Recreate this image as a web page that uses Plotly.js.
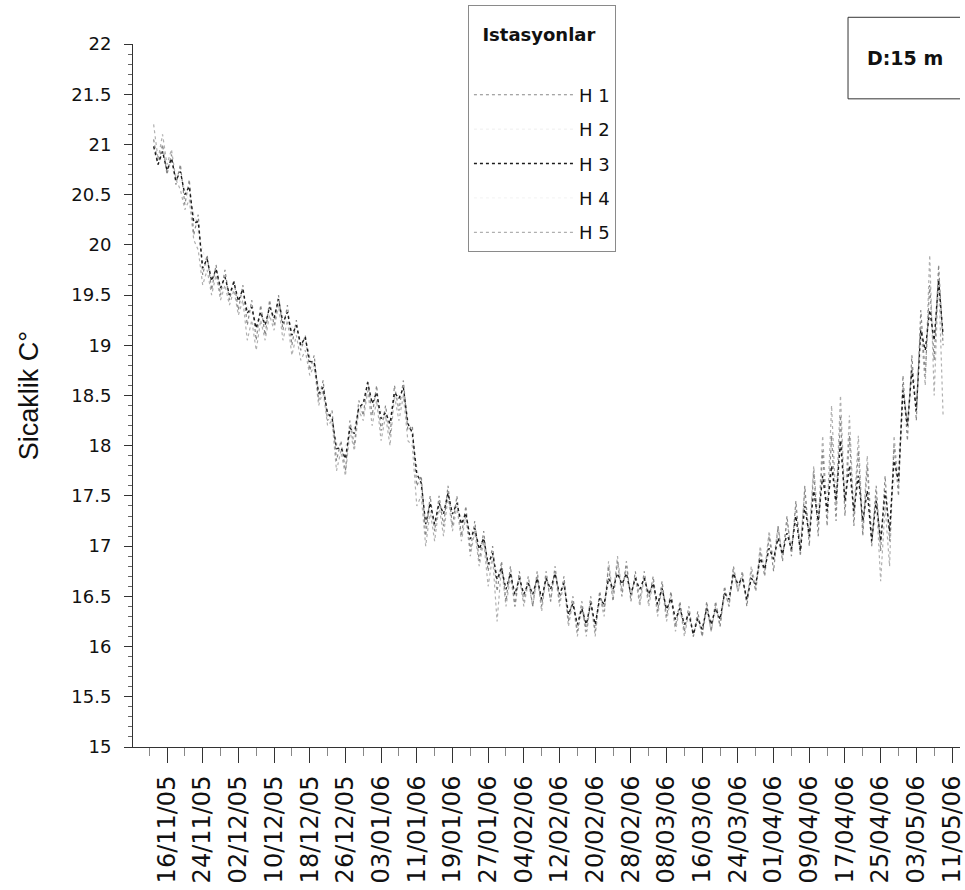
<!DOCTYPE html>
<html>
<head>
<meta charset="utf-8">
<script src="https://cdn.plot.ly/plotly-3.0.1.min.js"></script>
<style>
  html, body { margin: 0; padding: 0; background: #ffffff; }
  #chart { width: 965px; height: 890px; }
</style>
</head>
<body>
<div id="chart"></div>
<script>
// Station names
const stationNames = ["H 1", "H 2", "H 3", "H 4", "H 5"];

// Daily readings (°C) from 13/11/05 to 09/05/06, one value per day
const startDate = "2005-11-13";

const h1 = [
  21.05, 20.80, 21.00, 20.70, 20.90, 20.60,
  20.80, 20.40, 20.65, 20.10, 20.30, 19.70,
  19.90, 19.55, 19.80, 19.50, 19.75, 19.45,
  19.65, 19.35, 19.60, 19.20, 19.45, 19.05,
  19.40, 19.10, 19.45, 19.20, 19.50, 19.15,
  19.40, 19.00, 19.25, 18.95, 19.10, 18.75,
  18.90, 18.45, 18.65, 18.25, 18.35, 17.85,
  18.05, 17.75, 18.25, 18.00, 18.45, 18.30,
  18.65, 18.30, 18.60, 18.15, 18.40, 18.10,
  18.60, 18.35, 18.65, 18.15, 18.20, 17.60,
  17.70, 17.10, 17.50, 17.15, 17.50, 17.20,
  17.60, 17.20, 17.50, 17.10, 17.40, 16.95,
  17.25, 16.85, 17.15, 16.75, 17.00, 16.55,
  16.85, 16.45, 16.80, 16.40, 16.75, 16.45,
  16.70, 16.40, 16.75, 16.40, 16.75, 16.45,
  16.80, 16.45, 16.70, 16.25, 16.50, 16.15,
  16.45, 16.15, 16.50, 16.15, 16.55, 16.35,
  16.80, 16.45, 16.85, 16.50, 16.85, 16.45,
  16.75, 16.45, 16.75, 16.45, 16.70, 16.35,
  16.65, 16.30, 16.55, 16.20, 16.45, 16.15,
  16.40, 16.10, 16.35, 16.10, 16.45, 16.15,
  16.45, 16.20, 16.60, 16.40, 16.80, 16.55,
  16.75, 16.40, 16.75, 16.55, 16.95, 16.70,
  17.10, 16.75, 17.20, 16.85, 17.30, 16.90,
  17.45, 16.90, 17.60, 17.00, 17.75, 17.10,
  17.95, 17.20, 18.10, 17.25, 18.30, 17.30,
  18.10, 17.20, 17.95, 17.10, 17.80, 17.00,
  17.60, 16.95, 17.70, 17.05, 18.00, 17.50,
  18.70, 18.05, 18.90, 18.25, 19.35, 18.70,
  19.60, 18.85, 19.80, 19.00
];

const h3 = [
  20.98, 20.80, 20.93, 20.74, 20.86, 20.64,
  20.73, 20.50, 20.58, 20.22, 20.23, 19.77,
  19.86, 19.64, 19.76, 19.57, 19.68, 19.50,
  19.63, 19.44, 19.56, 19.32, 19.38, 19.17,
  19.33, 19.20, 19.38, 19.27, 19.46, 19.22,
  19.33, 19.10, 19.20, 19.00, 19.08, 18.84,
  18.83, 18.52, 18.58, 18.32, 18.28, 17.97,
  17.98, 17.87, 18.18, 18.12, 18.38, 18.42,
  18.63, 18.42, 18.53, 18.27, 18.33, 18.22,
  18.53, 18.47, 18.58, 18.22, 18.13, 17.72,
  17.63, 17.22, 17.43, 17.22, 17.43, 17.32,
  17.53, 17.32, 17.43, 17.22, 17.33, 17.07,
  17.18, 16.97, 17.08, 16.82, 16.93, 16.67,
  16.78, 16.57, 16.73, 16.52, 16.68, 16.52,
  16.63, 16.52, 16.68, 16.47, 16.68, 16.57,
  16.73, 16.52, 16.63, 16.32, 16.43, 16.22,
  16.38, 16.22, 16.43, 16.22, 16.48, 16.42,
  16.68, 16.57, 16.73, 16.62, 16.73, 16.52,
  16.68, 16.57, 16.68, 16.52, 16.63, 16.42,
  16.58, 16.37, 16.48, 16.27, 16.38, 16.22,
  16.33, 16.12, 16.28, 16.17, 16.38, 16.22,
  16.38, 16.27, 16.53, 16.47, 16.73, 16.62,
  16.68, 16.47, 16.68, 16.62, 16.88, 16.77,
  16.98, 16.87, 17.08, 16.92, 17.13, 16.97,
  17.30, 16.95, 17.40, 17.10, 17.55, 17.25,
  17.70, 17.35, 17.80, 17.45, 18.05, 17.45,
  17.80, 17.35, 17.70, 17.25, 17.55, 17.05,
  17.45, 17.05, 17.55, 17.15, 17.85, 17.65,
  18.55, 18.20, 18.75, 18.35, 19.15, 18.95,
  19.35, 19.05, 19.65, 19.10
];

const h5 = [
  21.20, 20.85, 21.10, 20.80, 20.95, 20.65,
  20.55, 20.35, 20.45, 20.05, 19.95, 19.60,
  19.75, 19.50, 19.70, 19.45, 19.60, 19.40,
  19.55, 19.30, 19.45, 19.05, 19.25, 18.95,
  19.25, 19.05, 19.30, 19.15, 19.40, 19.05,
  19.25, 18.90, 19.10, 18.85, 18.95, 18.70,
  18.80, 18.40, 18.55, 18.20, 18.25, 17.75,
  17.95, 17.70, 18.15, 17.95, 18.35, 18.25,
  18.55, 18.20, 18.45, 18.05, 18.30, 18.00,
  18.50, 18.25, 18.50, 18.05, 18.00, 17.40,
  17.50, 17.00, 17.35, 17.05, 17.40, 17.10,
  17.50, 17.15, 17.40, 17.05, 17.30, 16.90,
  17.15, 16.80, 17.05, 16.60, 16.90, 16.25,
  16.80, 16.40, 16.70, 16.40, 16.70, 16.40,
  16.65, 16.40, 16.70, 16.35, 16.70, 16.45,
  16.75, 16.40, 16.65, 16.20, 16.45, 16.10,
  16.40, 16.10, 16.45, 16.10, 16.50, 16.30,
  16.85, 16.50, 16.90, 16.55, 16.80, 16.50,
  16.70, 16.40, 16.70, 16.40, 16.65, 16.30,
  16.60, 16.25, 16.50, 16.15, 16.40, 16.10,
  16.35, 16.10, 16.30, 16.10, 16.40, 16.15,
  16.40, 16.20, 16.55, 16.40, 16.75, 16.55,
  16.70, 16.45, 16.80, 16.60, 17.00, 16.75,
  17.15, 16.85, 17.20, 16.90, 17.25, 16.95,
  17.40, 17.00, 17.55, 17.10, 17.80, 17.20,
  18.10, 17.30, 18.40, 17.40, 18.50, 17.40,
  18.30, 17.30, 18.10, 17.15, 17.90, 17.10,
  17.50, 16.65, 17.40, 16.80, 18.10, 17.60,
  18.60, 18.20, 18.80, 18.40, 19.20, 18.60,
  19.90, 18.50, 19.70, 18.30
];

// Two-day readings (barely visible in the scan)
const h2Start = "2005-11-13";
const h2 = [
  20.90, 20.85, 20.78, 20.65, 20.50, 20.15, 19.78, 19.68, 19.60, 19.55,
  19.48, 19.30, 19.25, 19.30, 19.38, 19.25, 19.12, 19.00, 18.75, 18.50,
  18.20, 17.90, 18.10, 18.30, 18.55, 18.45, 18.25, 18.45, 18.50, 18.05,
  17.55, 17.35, 17.35, 17.45, 17.35, 17.25, 17.10, 17.00, 16.85, 16.70,
  16.65, 16.60, 16.55, 16.60, 16.60, 16.65, 16.55, 16.35, 16.30, 16.35,
  16.40, 16.60, 16.65, 16.65, 16.60, 16.60, 16.55, 16.50, 16.40, 16.30,
  16.25, 16.20, 16.30, 16.30, 16.45, 16.65, 16.60, 16.60, 16.80, 16.90,
  17.00, 17.05, 17.10, 17.20, 17.35, 17.50, 17.60, 17.70, 17.60, 17.50,
  17.35, 17.20, 17.30, 17.60, 18.30, 18.50, 18.90, 19.10, 19.40
];

const h4Start = "2005-11-14";
const h4 = [
  20.85, 20.80, 20.70, 20.55, 20.30, 19.85, 19.70, 19.62, 19.55, 19.50,
  19.40, 19.22, 19.25, 19.32, 19.30, 19.15, 19.05, 18.90, 18.60, 18.35,
  18.00, 17.90, 18.15, 18.45, 18.50, 18.35, 18.28, 18.52, 18.30, 17.80,
  17.30, 17.30, 17.38, 17.40, 17.30, 17.15, 17.05, 16.90, 16.75, 16.65,
  16.60, 16.58, 16.58, 16.55, 16.62, 16.60, 16.40, 16.30, 16.28, 16.30,
  16.48, 16.62, 16.65, 16.60, 16.62, 16.58, 16.50, 16.45, 16.35, 16.28,
  16.20, 16.22, 16.28, 16.35, 16.55, 16.68, 16.55, 16.68, 16.85, 16.95,
  17.00, 17.05, 17.15, 17.28, 17.42, 17.55, 17.65, 17.65, 17.55, 17.45,
  17.25, 17.25, 17.35, 17.85, 18.42, 18.55, 19.15, 19.25, 19.35
];

const DAY = 86400000;

const traces = [
  { name: stationNames[1], y: h2, x0: h2Start, dx: 2 * DAY, rank: 2, color: "#eeeeee", width: 1, dash: "dot" },
  { name: stationNames[3], y: h4, x0: h4Start, dx: 2 * DAY, rank: 4, color: "#f2f2f2", width: 1, dash: "dot" },
  { name: stationNames[4], y: h5, x0: startDate, dx: DAY, rank: 5, color: "#b0b0b0", width: 1.2, dash: "dot" },
  { name: stationNames[0], y: h1, x0: startDate, dx: DAY, rank: 1, color: "#888888", width: 1.2, dash: "dot" },
  { name: stationNames[2], y: h3, x0: startDate, dx: DAY, rank: 3, color: "#1c1c1c", width: 1.4, dash: "dot" }
].map(t => ({
  type: "scatter",
  mode: "lines",
  name: t.name,
  y: t.y,
  x0: t.x0,
  dx: t.dx,
  legendrank: t.rank,
  legendgroup: t.name,
  line: { color: t.color, width: t.width, dash: t.dash },
  hoverinfo: "skip"
}));

const FONT = "DejaVu Sans, Verdana, sans-serif";

const layout = {
  width: 965,
  height: 890,
  margin: { l: 133, r: 5, t: 42, b: 143 },
  paper_bgcolor: "#ffffff",
  plot_bgcolor: "#ffffff",
  font: { family: FONT, color: "#111111" },
  showlegend: true,
  legend: {
    x: 0.405, y: 1.055, xanchor: "left", yanchor: "top",
    bgcolor: "#ffffff",
    bordercolor: "#8a8a8a",
    borderwidth: 1,
    traceorder: "grouped",
    tracegroupgap: 8,
    itemwidth: 100,
    font: { family: FONT, size: 18, color: "#111111" },
    title: {
      text: "<span style='font-size:18px'>&nbsp;&nbsp;<b>Istasyonlar</b></span><br> ",
      font: { family: FONT, size: 27, color: "#111111" }
    }
  },
  xaxis: {
    type: "date",
    range: ["2005-11-08 09:00", "2006-05-12 19:00"],
    tick0: "2005-11-16",
    dtick: 8 * DAY,
    tickformat: "%d/%m/%y",
    tickangle: -90,
    ticks: "outside",
    ticklen: 15,
    tickwidth: 1,
    tickcolor: "#333333",
    ticklabelstandoff: 3,
    ticklabeloverflow: "allow",
    tickfont: { family: FONT, size: 24, color: "#111111" },
    minor: { dtick: 4 * DAY, tick0: "2005-11-16", ticks: "outside", ticklen: 8, tickcolor: "#888888", tickwidth: 1 },
    showline: true,
    linecolor: "#333333",
    linewidth: 1,
    showgrid: false,
    zeroline: false,
    automargin: false
  },
  yaxis: {
    range: [15, 22],
    dtick: 0.5,
    tick0: 15,
    ticks: "outside",
    ticklen: 8,
    tickwidth: 1,
    tickcolor: "#333333",
    ticklabelstandoff: 9,
    tickfont: { family: FONT, size: 18, color: "#111111" },
    minor: { dtick: 0.1, ticks: "outside", ticklen: 4, tickcolor: "#666666", tickwidth: 1 },
    showline: true,
    linecolor: "#333333",
    linewidth: 1,
    showgrid: false,
    zeroline: false,
    automargin: false,
    title: {
      text: "Sicaklik C°",
      standoff: 24,
      font: { family: "Liberation Sans, Arial, sans-serif", size: 27, color: "#111111" }
    }
  },
  shapes: [
    { type: "line", xref: "paper", yref: "paper", x0: 0.8646, x1: 1.0, y0: 1.038, y1: 1.038, line: { color: "#333333", width: 1 } },
    { type: "line", xref: "paper", yref: "paper", x0: 0.8646, x1: 0.8646, y0: 0.922, y1: 1.038, line: { color: "#333333", width: 1 } },
    { type: "line", xref: "paper", yref: "paper", x0: 0.8646, x1: 1.0, y0: 0.922, y1: 0.922, line: { color: "#333333", width: 1 } }
  ],
  annotations: [
    {
      xref: "paper", yref: "paper",
      x: 0.934, y: 0.980,
      xanchor: "center", yanchor: "middle",
      text: "<b>D:15 m</b>",
      showarrow: false,
      font: { family: FONT, size: 19, color: "#111111" }
    }
  ]
};

Plotly.newPlot("chart", traces, layout, { displayModeBar: false, staticPlot: true });
</script>
</body>
</html>
